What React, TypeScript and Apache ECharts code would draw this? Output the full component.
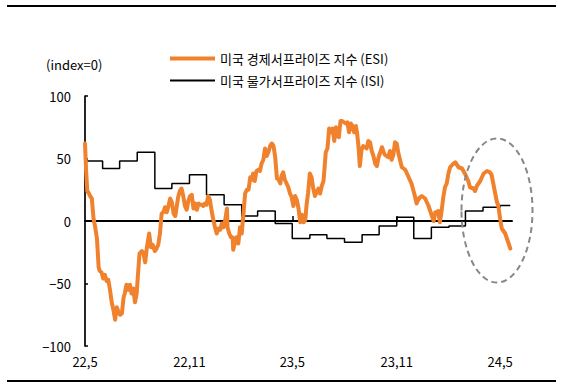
import React, { useEffect, useRef } from "react";
import * as echarts from "echarts";

// ---- data ----
const esiName = "미국 경제서프라이즈 지수 (ESI)";
const isiName = "미국 물가서프라이즈 지수 (ISI)";

const tickMonths = ["2022-05", "2022-11", "2023-05", "2023-11", "2024-05"];
const tickLabels = ["22,5", "22,11", "23,5", "23,11", "24,5"];

// ISI: monthly values (held through the month)
const isiMonths = [
  "2022-05", "2022-06", "2022-07", "2022-08", "2022-09", "2022-10", "2022-11", "2022-12",
  "2023-01", "2023-02", "2023-03", "2023-04", "2023-05", "2023-06", "2023-07", "2023-08",
  "2023-09", "2023-10", "2023-11", "2023-12", "2024-01", "2024-02", "2024-03", "2024-04", "2024-05",
];
const isiValues = [48, 42, 48, 55, 26, 30, 37, 21, 13, 4, 8, -2, -14, -11, -14, -17, -11, -4, 3, -14, -5, -4, 8, 11, 12.5];
const lastDay = 749; // days after 2022-05-01 (about 2024-05-19)

// ESI: [days after 2022-05-01, value]
const esiPoints: [number, number][] = [
  [0, 62], [2, 40], [4, 24], [7, 22], [9, 20], [12, 18], [15, 2], [18, -5], [21, -14], [22, -21],
  [24, -37], [26, -40], [29, -41], [32, -46], [35, -43], [38, -48], [41, -47], [44, -55], [47, -65],
  [50, -71], [53, -79], [56, -69], [59, -73], [62, -75], [65, -74], [68, -61], [70, -58], [73, -51],
  [76, -55], [79, -51], [82, -58], [85, -54], [88, -65], [91, -58], [93, -45], [96, -26], [100, -24],
  [103, -26], [106, -33], [109, -21], [113, -10], [116, -21], [119, -19], [123, -24], [126, -22],
  [129, -19], [132, -10], [135, 6], [138, 7], [141, 11], [144, 7], [147, 12], [150, 18], [153, 15],
  [156, 6], [159, 4], [162, 13], [164, 19], [167, 24], [170, 26], [173, 20], [176, 12], [179, 9],
  [182, 16], [185, 20], [188, 21], [191, 10], [194, 14], [197, 9], [200, 14], [203, 13], [206, 13],
  [208, 12], [211, 14], [214, 13], [217, 20], [220, 17], [223, 8], [226, 1], [229, -5], [232, -10],
  [235, -6], [238, -7], [241, -2], [244, -5], [247, 1], [250, 10], [251, -5], [254, -10], [257, -13],
  [260, -13], [261, -23], [264, -17], [267, -13], [270, -18], [273, -5], [276, -10], [279, 6],
  [282, 22], [285, 25], [288, 25], [291, 35], [294, 33], [296, 38], [299, 32], [302, 40], [305, 41],
  [308, 40], [311, 46], [314, 49], [317, 58], [320, 52], [323, 55], [326, 60], [329, 62], [332, 60],
  [335, 51], [338, 34], [341, 33], [344, 30], [346, 36], [349, 39], [352, 33], [355, 30], [358, 27],
  [361, 22], [364, 19], [367, 12], [370, 20], [373, 17], [376, 10], [379, -1], [382, 5], [385, -1],
  [388, 1], [390, 12], [393, 23], [396, 38], [399, 35], [402, 26], [405, 20], [408, 23], [411, 26],
  [414, 22], [417, 28], [420, 32], [422, 43], [424, 55], [427, 58], [430, 74], [433, 71], [436, 74],
  [439, 64], [442, 75], [445, 68], [447, 67], [450, 80], [453, 80], [456, 79], [459, 78], [462, 79],
  [465, 71], [468, 78], [471, 76], [474, 71], [477, 76], [479, 71], [482, 58], [484, 44], [487, 57],
  [490, 60], [493, 59], [496, 58], [499, 64], [502, 63], [505, 56], [508, 52], [511, 46], [514, 44],
  [517, 51], [520, 55], [523, 59], [526, 55], [528, 53], [531, 52], [534, 51], [537, 56], [540, 49],
  [543, 53], [546, 63], [549, 62], [552, 54], [558, 43], [564, 41], [570, 35], [575, 30], [581, 20],
  [584, 14], [587, 17], [590, 19], [593, 20], [599, 18], [605, 12], [611, 4], [614, 0], [617, 7],
  [619, 6], [622, 8], [625, -1], [628, 8], [631, 19], [634, 27], [637, 30], [640, 38], [643, 43],
  [649, 46], [652, 47], [658, 43], [664, 42], [669, 38], [675, 32], [678, 27], [684, 26], [687, 24],
  [690, 28], [696, 32], [702, 38], [708, 40], [713, 39], [716, 37], [719, 30], [722, 23], [725, 16],
  [728, 12], [731, 2], [734, -6], [737, -8], [740, -10], [743, -14], [746, -18], [749, -22],
];

const FONT = "'Noto Sans CJK KR', 'Noto Sans', sans-serif";

function dayOf(ym: string): number {
  const [y, m] = ym.split("-").map(Number);
  return Math.round((Date.UTC(y, m - 1, 1) - Date.UTC(2022, 4, 1)) / 86400000);
}

export default function App() {
  const ref = useRef<HTMLDivElement>(null);
  useEffect(() => {
    if (!ref.current) return;
    const chart = echarts.init(ref.current, null, { renderer: "svg" });
    const tickDays = tickMonths.map(dayOf);
    const isiData: [number, number][] = isiMonths.map((m, i) => [dayOf(m), isiValues[i]]);
    isiData.push([lastDay, isiValues[isiValues.length - 1]]);

    chart.setOption({
      animation: false,
      textStyle: { fontFamily: FONT },
      title: {
        text: "(index=0)",
        left: 46,
        top: 58,
        padding: 0,
        textStyle: { fontSize: 13, fontWeight: "normal", color: "#000", fontFamily: FONT },
      },
      legend: [
        {
          data: [esiName],
          left: 170,
          top: 52,
          padding: 0,
          itemWidth: 45,
          itemHeight: 4,
          itemGap: 5,
          icon: "rect",
          selectedMode: false,
          textStyle: { fontSize: 13, color: "#000", fontFamily: FONT },
        },
        {
          data: [isiName],
          left: 170,
          top: 74,
          padding: 0,
          itemWidth: 45,
          itemHeight: 2,
          itemGap: 5,
          icon: "rect",
          selectedMode: false,
          textStyle: { fontSize: 13, color: "#000", fontFamily: FONT },
        },
      ],
      grid: { left: 85, right: 52, top: 96, bottom: 42 },
      xAxis: [
        {
          type: "value",
          min: 0,
          max: 752,
          position: "bottom",
          axisLine: { show: false, onZero: false },
          axisTick: { show: false },
          splitLine: { show: false },
          axisLabel: {
            customValues: tickDays,
            margin: 9,
            fontSize: 13,
            color: "#000",
            fontFamily: FONT,
            formatter: (v: number) => {
              const i = tickDays.indexOf(Math.round(v));
              return i >= 0 ? tickLabels[i] : "";
            },
          },
        },
        {
          type: "value",
          min: 0,
          max: 752,
          position: "bottom",
          axisLine: { show: true, onZero: true, lineStyle: { color: "#000", width: 2 } },
          axisTick: {
            show: true,
            inside: true,
            length: 5,
            customValues: tickDays.slice(1),
            lineStyle: { color: "#000", width: 1.5 },
          },
          axisLabel: { show: false },
          splitLine: { show: false },
        },
      ],
      yAxis: {
        type: "value",
        min: -100,
        max: 100,
        interval: 50,
        axisLine: { show: true, lineStyle: { color: "#000", width: 1.7 } },
        axisTick: { show: true, inside: true, length: 3, lineStyle: { color: "#000", width: 1.5 } },
        splitLine: { show: false },
        axisLabel: {
          margin: 14,
          fontSize: 13,
          color: "#000",
          fontFamily: FONT,
          formatter: (v: number) => String(v).replace("-", "\u2212"),
        },
      },
      series: [
        {
          name: isiName,
          type: "line",
          xAxisIndex: 0,
          step: "end",
          symbol: "none",
          data: isiData,
          lineStyle: { color: "#000", width: 1.5 },
          itemStyle: { color: "#000" },
          z: 3,
        },
        {
          name: esiName,
          type: "line",
          xAxisIndex: 0,
          symbol: "none",
          data: esiPoints,
          lineStyle: { color: "#F0822D", width: 4, join: "round", cap: "round" },
          itemStyle: { color: "#F0822D" },
          z: 4,
        },
      ],
      graphic: [
        { type: "line", shape: { x1: 7, y1: 6, x2: 556, y2: 6 }, style: { stroke: "#000", lineWidth: 2 } },
        { type: "line", shape: { x1: 7, y1: 381, x2: 556, y2: 381 }, style: { stroke: "#000", lineWidth: 2 } },
        {
          type: "ellipse",
          shape: { cx: 497, cy: 210.5, rx: 35.5, ry: 72 },
          style: { fill: "none", stroke: "#888", lineWidth: 2, lineDash: [6, 4] },
          z: 10,
        },
      ],
    });
    return () => chart.dispose();
  }, []);
  return (
    <div
      ref={ref}
      style={{ position: "fixed", left: 0, top: 0, width: 564, height: 388, background: "#fff" }}
    />
  );
}
